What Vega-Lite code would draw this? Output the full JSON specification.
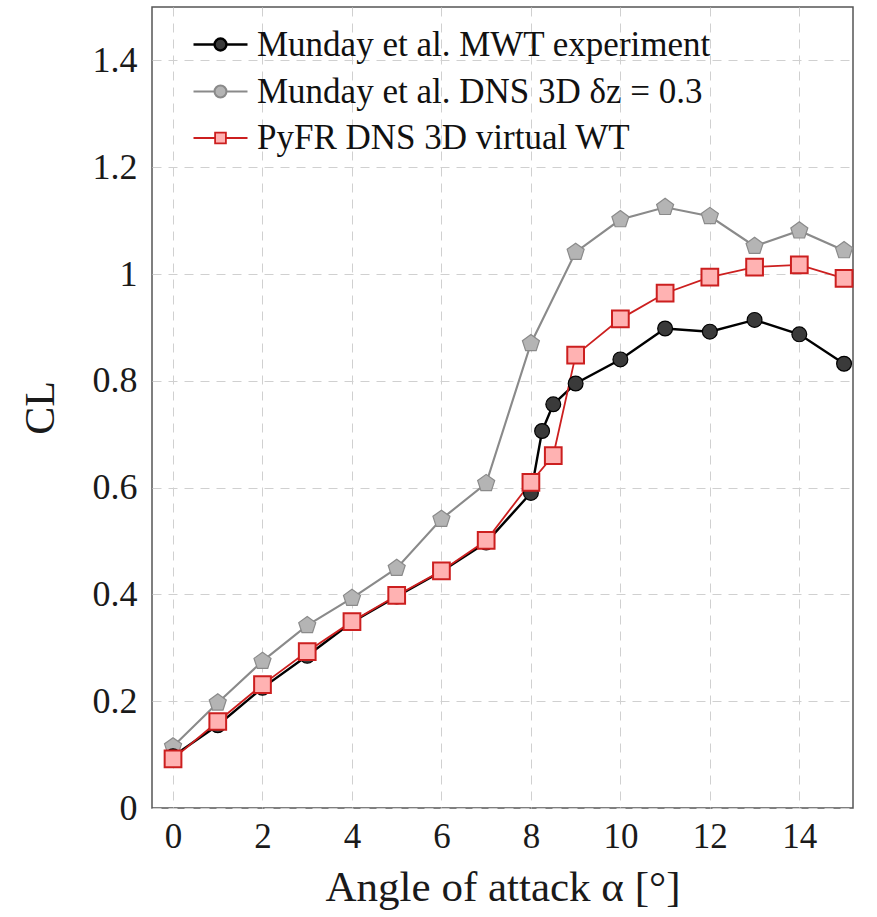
{
  "$schema": "https://vega.github.io/schema/vega-lite/v6.json",
  "width": 701,
  "height": 801,
  "autosize": {"type": "none"},
  "padding": {"left": 152, "top": 7, "right": 24, "bottom": 109},
  "background": "white",
  "config": {
    "view": {"stroke": "#555555", "strokeWidth": 1.5},
    "font": "Liberation Serif",
    "axis": {
      "labelFont": "Liberation Serif",
      "titleFont": "Liberation Serif",
      "labelColor": "#1a1a1a",
      "titleColor": "#1a1a1a",
      "titleFontWeight": "normal",
      "domain": false,
      "ticks": false,
      "grid": true,
      "gridColor": "#d0d0d0",
      "gridDash": [9, 7],
      "gridWidth": 1
    },
    "legend": {
      "labelFont": "Liberation Serif",
      "labelColor": "#111111"
    }
  },
  "data": {
    "values": [
      {"series": "Munday et al. DNS 3D δz = 0.3", "alpha": 0, "cl": 0.115},
      {"series": "Munday et al. DNS 3D δz = 0.3", "alpha": 1, "cl": 0.197},
      {"series": "Munday et al. DNS 3D δz = 0.3", "alpha": 2, "cl": 0.275},
      {"series": "Munday et al. DNS 3D δz = 0.3", "alpha": 3, "cl": 0.342},
      {"series": "Munday et al. DNS 3D δz = 0.3", "alpha": 4, "cl": 0.393},
      {"series": "Munday et al. DNS 3D δz = 0.3", "alpha": 5, "cl": 0.449},
      {"series": "Munday et al. DNS 3D δz = 0.3", "alpha": 6, "cl": 0.541},
      {"series": "Munday et al. DNS 3D δz = 0.3", "alpha": 7, "cl": 0.608},
      {"series": "Munday et al. DNS 3D δz = 0.3", "alpha": 8, "cl": 0.870},
      {"series": "Munday et al. DNS 3D δz = 0.3", "alpha": 9, "cl": 1.041},
      {"series": "Munday et al. DNS 3D δz = 0.3", "alpha": 10, "cl": 1.102},
      {"series": "Munday et al. DNS 3D δz = 0.3", "alpha": 11, "cl": 1.125},
      {"series": "Munday et al. DNS 3D δz = 0.3", "alpha": 12, "cl": 1.108},
      {"series": "Munday et al. DNS 3D δz = 0.3", "alpha": 13, "cl": 1.052},
      {"series": "Munday et al. DNS 3D δz = 0.3", "alpha": 14, "cl": 1.081},
      {"series": "Munday et al. DNS 3D δz = 0.3", "alpha": 15, "cl": 1.044},
      {"series": "Munday et al. MWT experiment", "alpha": 0, "cl": 0.097},
      {"series": "Munday et al. MWT experiment", "alpha": 1, "cl": 0.155},
      {"series": "Munday et al. MWT experiment", "alpha": 2, "cl": 0.225},
      {"series": "Munday et al. MWT experiment", "alpha": 3, "cl": 0.285},
      {"series": "Munday et al. MWT experiment", "alpha": 4, "cl": 0.348},
      {"series": "Munday et al. MWT experiment", "alpha": 5, "cl": 0.396},
      {"series": "Munday et al. MWT experiment", "alpha": 6, "cl": 0.443},
      {"series": "Munday et al. MWT experiment", "alpha": 7, "cl": 0.497},
      {"series": "Munday et al. MWT experiment", "alpha": 8, "cl": 0.590},
      {"series": "Munday et al. MWT experiment", "alpha": 8.25, "cl": 0.706},
      {"series": "Munday et al. MWT experiment", "alpha": 8.5, "cl": 0.756},
      {"series": "Munday et al. MWT experiment", "alpha": 9, "cl": 0.795},
      {"series": "Munday et al. MWT experiment", "alpha": 10, "cl": 0.840},
      {"series": "Munday et al. MWT experiment", "alpha": 11, "cl": 0.898},
      {"series": "Munday et al. MWT experiment", "alpha": 12, "cl": 0.892},
      {"series": "Munday et al. MWT experiment", "alpha": 13, "cl": 0.914},
      {"series": "Munday et al. MWT experiment", "alpha": 14, "cl": 0.887},
      {"series": "Munday et al. MWT experiment", "alpha": 15, "cl": 0.832},
      {"series": "PyFR DNS 3D virtual WT", "alpha": 0, "cl": 0.092},
      {"series": "PyFR DNS 3D virtual WT", "alpha": 1, "cl": 0.162},
      {"series": "PyFR DNS 3D virtual WT", "alpha": 2, "cl": 0.231},
      {"series": "PyFR DNS 3D virtual WT", "alpha": 3, "cl": 0.293},
      {"series": "PyFR DNS 3D virtual WT", "alpha": 4, "cl": 0.349},
      {"series": "PyFR DNS 3D virtual WT", "alpha": 5, "cl": 0.398},
      {"series": "PyFR DNS 3D virtual WT", "alpha": 6, "cl": 0.444},
      {"series": "PyFR DNS 3D virtual WT", "alpha": 7, "cl": 0.501},
      {"series": "PyFR DNS 3D virtual WT", "alpha": 8, "cl": 0.610},
      {"series": "PyFR DNS 3D virtual WT", "alpha": 8.5, "cl": 0.660},
      {"series": "PyFR DNS 3D virtual WT", "alpha": 9, "cl": 0.848},
      {"series": "PyFR DNS 3D virtual WT", "alpha": 10, "cl": 0.916},
      {"series": "PyFR DNS 3D virtual WT", "alpha": 11, "cl": 0.964},
      {"series": "PyFR DNS 3D virtual WT", "alpha": 12, "cl": 0.994},
      {"series": "PyFR DNS 3D virtual WT", "alpha": 13, "cl": 1.013},
      {"series": "PyFR DNS 3D virtual WT", "alpha": 14, "cl": 1.017},
      {"series": "PyFR DNS 3D virtual WT", "alpha": 15, "cl": 0.992}
    ]
  },
  "encoding": {
    "x": {
      "field": "alpha",
      "type": "quantitative",
      "scale": {"domain": [-0.47, 15.2], "nice": false, "zero": false},
      "axis": {
        "values": [0, 2, 4, 6, 8, 10, 12, 14],
        "title": "Angle of attack α [°]",
        "labelFontSize": 35,
        "titleFontSize": 43,
        "labelPadding": 11,
        "titlePadding": 12
      }
    },
    "y": {
      "field": "cl",
      "type": "quantitative",
      "scale": {"domain": [0, 1.5], "nice": false},
      "axis": {
        "values": [0, 0.2, 0.4, 0.6, 0.8, 1, 1.2, 1.4],
        "format": "~g",
        "title": "CL",
        "labelFontSize": 36,
        "titleFontSize": 42,
        "labelPadding": 15,
        "titlePadding": 30
      }
    }
  },
  "layer": [
    {
      "mark": {"type": "line", "interpolate": "linear"},
      "encoding": {
        "stroke": {
          "field": "series",
          "type": "nominal",
          "scale": {
            "domain": ["Munday et al. MWT experiment", "Munday et al. DNS 3D δz = 0.3", "PyFR DNS 3D virtual WT"],
            "range": ["#000000", "#8a8a8a", "#cc1f1f"]
          }
        },
        "strokeWidth": {
          "field": "series",
          "type": "nominal",
          "scale": {
            "domain": ["Munday et al. MWT experiment", "Munday et al. DNS 3D δz = 0.3", "PyFR DNS 3D virtual WT"],
            "range": [2.4, 1.8, 2.2]
          }
        },
        "order": {"field": "alpha", "type": "quantitative"}
      }
    },
    {
      "transform": [{"filter": "datum.series == 'Munday et al. DNS 3D δz = 0.3'"}],
      "mark": {"type": "point", "filled": true, "opacity": 1, "size": 320, "strokeWidth": 1.2,
        "shape": "M0,-1L0.951,-0.309L0.588,0.809L-0.588,0.809L-0.951,-0.309Z"},
      "encoding": {
        "stroke": {"field": "series", "type": "nominal"},
        "fill": {
          "field": "series",
          "type": "nominal",
          "scale": {
            "domain": ["Munday et al. MWT experiment", "Munday et al. DNS 3D δz = 0.3", "PyFR DNS 3D virtual WT"],
            "range": ["#3a3a3a", "#b4b4b4", "#ffb2b2"]
          }
        }
      }
    },
    {
      "transform": [{"filter": "datum.series == 'Munday et al. MWT experiment'"}],
      "mark": {"type": "point", "filled": true, "opacity": 1, "size": 220, "strokeWidth": 1.2, "shape": "circle"},
      "encoding": {
        "stroke": {"field": "series", "type": "nominal"},
        "fill": {"field": "series", "type": "nominal"}
      }
    },
    {
      "transform": [{"filter": "datum.series == 'PyFR DNS 3D virtual WT'"}],
      "mark": {"type": "point", "filled": true, "opacity": 1, "size": 280, "strokeWidth": 2, "shape": "square"},
      "encoding": {
        "stroke": {"field": "series", "type": "nominal"},
        "fill": {"field": "series", "type": "nominal"}
      }
    },
    {
      "mark": {"type": "point", "filled": true, "opacity": 0, "size": 10, "strokeWidth": 2},
      "encoding": {
        "stroke": {"field": "series", "type": "nominal"},
        "fill": {"field": "series", "type": "nominal"},
        "shape": {
          "field": "series",
          "type": "nominal",
          "scale": {
            "domain": ["Munday et al. MWT experiment", "Munday et al. DNS 3D δz = 0.3", "PyFR DNS 3D virtual WT"],
            "range": [
              "M-1,0H-0.22M0.22,0H1M-0.22,0A0.22,0.22 0 1,1 0.22,0A0.22,0.22 0 1,1 -0.22,0Z",
              "M-1,0H-0.22M0.22,0H1M-0.22,0A0.22,0.22 0 1,1 0.22,0A0.22,0.22 0 1,1 -0.22,0Z",
              "M-1,0H-0.2M0.2,0H1M-0.2,-0.2H0.2V0.2H-0.2Z"
            ]
          },
          "legend": {
            "orient": "none",
            "legendX": 40,
            "legendY": 9,
            "title": null,
            "labelFontSize": 35,
            "labelLimit": 600,
            "labelOffset": 8,
            "rowPadding": -4,
            "symbolSize": 2916,
            "symbolType": "circle",
            "symbolOpacity": 1,
            "padding": 0
          }
        }
      }
    }
  ]
}
